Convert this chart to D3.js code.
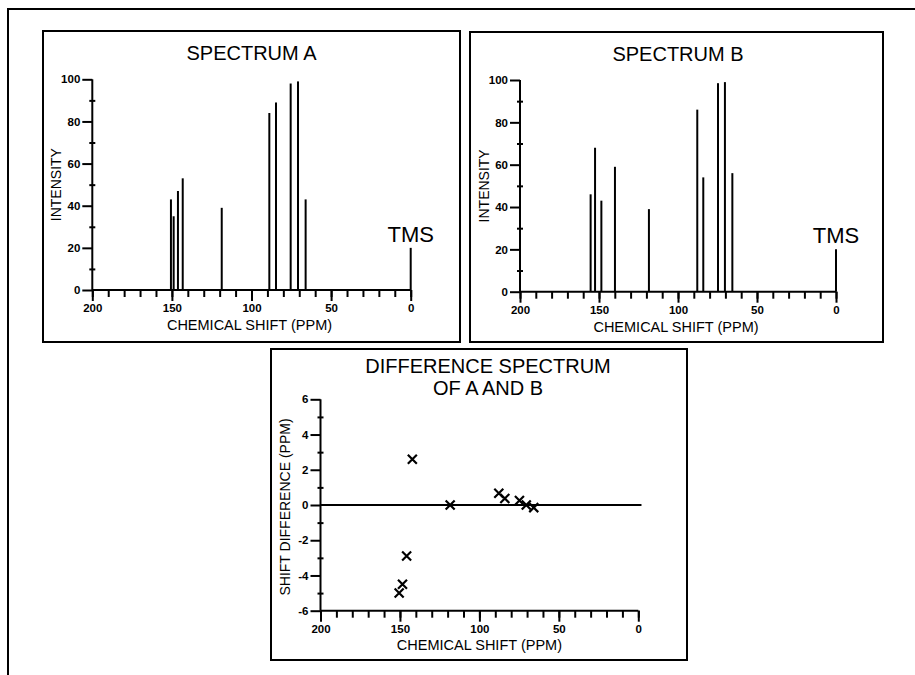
<!DOCTYPE html>
<html><head><meta charset="utf-8">
<script src="https://cdn.jsdelivr.net/npm/d3@7/dist/d3.min.js"></script>
<style>
html,body{margin:0;padding:0;background:#fff;}
svg{display:block;}
text{font-family:"Liberation Sans",Arial,sans-serif;fill:#000;}
.tick text{font-family:"Liberation Sans",Arial,sans-serif;font-weight:bold;font-size:11.5px;}
</style></head><body>
<svg id="c" width="915" height="675"></svg>
<script>
// ---- data ----
const shiftTicks = [200, 150, 100, 50, 0];
const intensityTicks = [0, 20, 40, 60, 80, 100];
const diffTicks = [-6, -4, -2, 0, 2, 4, 6];

const shiftsA = [150.6, 148.9, 146.2, 143.2, 118.7, 88.8, 84.6, 75.4, 70.8, 66.0];
const intensA = [43, 35, 47, 53, 39, 84, 89, 98, 99, 43];

const shiftsB = [155.3, 152.5, 148.5, 139.9, 118.4, 87.8, 84.0, 74.7, 70.3, 65.6];
const intensB = [46, 68, 43, 59, 39, 86, 54, 98.5, 99, 56];

const tmsShift = 0, tmsIntensity = 20;

const diffShift = [150.5, 148.4, 145.8, 142.2, 118.4, 87.8, 84.0, 74.8, 70.5, 65.8];
const diffValue = [-5.0, -4.5, -2.9, 2.6, 0.0, 0.67, 0.37, 0.26, 0.0, -0.15];

const svg = d3.select("#c");

// outer frame
svg.append("path").attr("d","M8,680 L8,9 L920,9").attr("fill","none").attr("stroke","#000").attr("stroke-width",2);

function panelBox(x0,y0,x1,y1){
  svg.append("rect").attr("x",x0).attr("y",y0).attr("width",x1-x0).attr("height",y1-y0)
    .attr("fill","none").attr("stroke","#000").attr("stroke-width",2);
}

function xAxis(g, x, yPix){
  const ax = g.append("g").attr("transform",`translate(0,${yPix})`);
  ax.call(d3.axisBottom(x).tickValues(d3.range(0,201,10)).tickSize(7).tickFormat(""));
  ax.select(".domain").remove();
  const mj = g.append("g").attr("transform",`translate(0,${yPix})`)
    .call(d3.axisBottom(x).tickValues(shiftTicks).tickSize(11).tickPadding(3).tickFormat(d3.format("d")));
  mj.select(".domain").remove();
  g.selectAll(".tick line").attr("stroke","#000").attr("stroke-width",2);
  g.append("line").attr("x1",x(200)).attr("x2",x(0)).attr("y1",yPix).attr("y2",yPix)
    .attr("stroke","#000").attr("stroke-width",2);
}

function yAxis(g, y, xPix, ticks, minor){
  const mn = g.append("g").attr("transform",`translate(${xPix+3},0)`)
    .call(d3.axisLeft(y).tickValues(minor).tickSize(6).tickFormat(""));
  mn.select(".domain").remove();
  const mj = g.append("g").attr("transform",`translate(${xPix},0)`)
    .call(d3.axisLeft(y).tickValues(ticks).tickSize(10).tickPadding(2).tickFormat(d=> d<0 ? "-"+Math.abs(d) : d));
  mj.select(".domain").remove();
  g.selectAll(".tick line").attr("stroke","#000").attr("stroke-width",2);
  g.append("line").attr("x1",xPix).attr("x2",xPix).attr("y1",y.range()[0]).attr("y2",y.range()[1])
    .attr("stroke","#000").attr("stroke-width",2);
}

function spectrum(opts){
  panelBox(opts.box[0],opts.box[1],opts.box[2],opts.box[3]);
  const g = svg.append("g");
  const x = d3.scaleLinear().domain([200,0]).range([opts.xl,opts.xr]);
  const y = d3.scaleLinear().domain([0,100]).range([opts.yb,opts.yt]);
  g.selectAll("line.peak").data(opts.shifts.map((s,i)=>({s,v:opts.intens[i]})))
    .join("line").attr("class","peak")
    .attr("x1",d=>x(d.s)).attr("x2",d=>x(d.s)).attr("y1",y(0)).attr("y2",d=>y(d.v))
    .attr("stroke","#000").attr("stroke-width",2);
  g.append("line").attr("x1",x(tmsShift)).attr("x2",x(tmsShift)).attr("y1",y(0)).attr("y2",y(tmsIntensity))
    .attr("stroke","#000").attr("stroke-width",2);
  g.append("text").attr("x",x(tmsShift)).attr("y",y(tmsIntensity)-6).attr("text-anchor","middle")
    .attr("font-size",22).text("TMS");
  xAxis(g,x,y(0));
  yAxis(g,y,opts.xl,intensityTicks,d3.range(10,100,20));
  const cx = (opts.xl+opts.xr)/2;
  g.append("text").attr("x",cx).attr("y",opts.box[1]+29).attr("text-anchor","middle")
    .attr("font-size",20).text(opts.title);
  g.append("text").attr("x",cx-2).attr("y",y(0)+40).attr("text-anchor","middle")
    .attr("font-size",14.5).text("CHEMICAL SHIFT (PPM)");
  g.append("text").attr("transform",`translate(${opts.xl-31},${(y(0)+y(100))/2}) rotate(-90)`)
    .attr("text-anchor","middle").attr("font-size",14).text("INTENSITY");
}

spectrum({box:[43,31,460,342], xl:92.3, xr:410.7, yb:290, yt:79.3,
  shifts:shiftsA, intens:intensA, title:"SPECTRUM A"});
spectrum({box:[470,32,883,342], xl:520, xr:836, yb:291.7, yt:80,
  shifts:shiftsB, intens:intensB, title:"SPECTRUM B"});

// difference panel
(function(){
  panelBox(271,349,687,660);
  const g = svg.append("g");
  const x = d3.scaleLinear().domain([200,0]).range([320.5,638.3]);
  const y = d3.scaleLinear().domain([-6,6]).range([610.7,399.3]);
  g.append("line").attr("x1",x(200)).attr("x2",x(-2)).attr("y1",y(0)).attr("y2",y(0))
    .attr("stroke","#000").attr("stroke-width",2);
  const s = 4.5;
  const pts = g.selectAll("g.pt").data(diffShift.map((d,i)=>({s:d,v:diffValue[i]})))
    .join("g").attr("class","pt").attr("transform",d=>`translate(${x(d.s)},${y(d.v)})`);
  pts.append("path").attr("d",`M${-s},${-s}L${s},${s}M${-s},${s}L${s},${-s}`)
    .attr("stroke","#000").attr("stroke-width",2.2).attr("fill","none");
  xAxis(g,x,y(-6));
  yAxis(g,y,x(200),diffTicks,d3.range(-5,6,2));
  const cx = 488;
  g.append("text").attr("x",cx).attr("y",373).attr("text-anchor","middle").attr("font-size",20).text("DIFFERENCE SPECTRUM");
  g.append("text").attr("x",cx).attr("y",395).attr("text-anchor","middle").attr("font-size",20).text("OF A AND B");
  g.append("text").attr("x",(x(200)+x(0))/2).attr("y",y(-6)+39).attr("text-anchor","middle")
    .attr("font-size",14.5).text("CHEMICAL SHIFT (PPM)");
  g.append("text").attr("transform",`translate(${x(200)-31},${y(0)+2}) rotate(-90)`)
    .attr("text-anchor","middle").attr("font-size",14).text("SHIFT DIFFERENCE (PPM)");
})();
</script>
</body></html>
